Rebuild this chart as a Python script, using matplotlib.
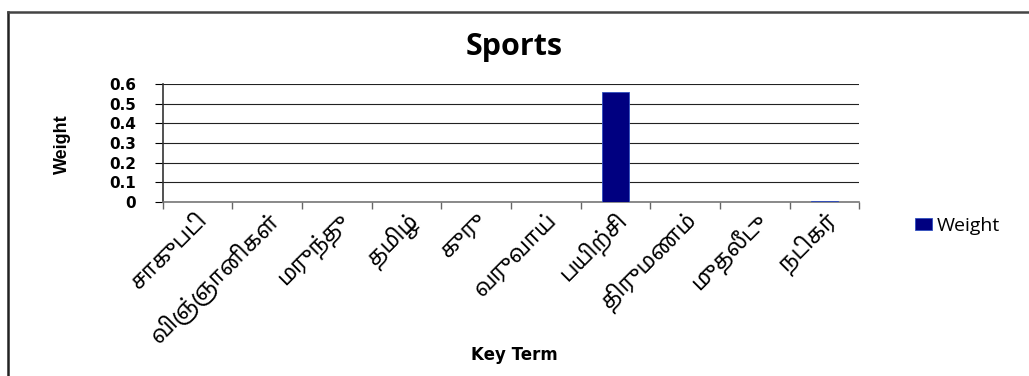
import matplotlib
matplotlib.use("Agg")
import matplotlib.pyplot as plt
from matplotlib.lines import Line2D
from matplotlib import font_manager
import numpy as np

terms = ["சாகுபடி", "விஞ்ஞானிகள்", "மருந்து", "தமிழ்", "குரு",
         "வருவாய்", "பயிற்சி", "திருமணம்", "முதலீடு", "நடிகர்"]
weights = [0, 0, 0, 0, 0, 0, 0.557, 0, 0, 0.004]
yticks = [0, 0.1, 0.2, 0.3, 0.4, 0.5, 0.6]

# pick whatever Tamil-capable family exists, else fall back
names = {f.name for f in font_manager.fontManager.ttflist}
tamil = [n for n in ["Noto Sans Tamil", "Lohit Tamil", "Noto Serif Tamil", "FreeSerif"] if n in names]
label_font = tamil + ["DejaVu Sans"]
narrow = "Liberation Sans Narrow" if "Liberation Sans Narrow" in names else "Liberation Sans"

fig = plt.figure(figsize=(10.29, 3.76), dpi=100)
ax = fig.add_axes([0.158, 0.463, 0.677, 0.314])

x = np.arange(len(terms))
ax.bar(x, weights, width=0.39, color="#000080", edgecolor="#3050c0",
       linewidth=0.6, label="Weight", zorder=3)

ax.set_xlim(-0.5, len(terms) - 0.5)
ax.set_ylim(0, 0.6)
ax.set_yticks(yticks)
ax.set_yticklabels(["0" if v == 0 else f"{v:.1f}" for v in yticks],
                   fontfamily="DejaVu Sans", fontweight="bold", fontsize=11)
ax.grid(axis="y", color="#222222", linewidth=0.8, zorder=0)
ax.tick_params(axis="y", length=6, width=0.8, pad=13)

ax.set_xticks(x)
ax.set_xticklabels(terms, rotation=45, ha="right", rotation_mode="anchor",
                   fontfamily=label_font, fontsize=16, fontweight="bold")
ax.set_xticks(np.arange(len(terms) + 1) - 0.5, minor=True)
ax.tick_params(axis="x", which="major", length=0, pad=5)
ax.tick_params(axis="x", which="minor", length=5, width=1, color="#666666")

for s in ["top", "right"]:
    ax.spines[s].set_visible(False)
ax.spines["left"].set_color("#333333")
ax.spines["left"].set_linewidth(1.2)
ax.spines["bottom"].set_color("#777777")
ax.spines["bottom"].set_linewidth(1.2)

fig.text(62 / 1029, 1 - 144 / 376, "Weight", rotation=90, ha="center", va="center",
         fontfamily=narrow, fontweight="bold", fontsize=13)
fig.text(0.5, 1 - 355 / 376, "Key Term", ha="center", va="center",
         fontfamily="DejaVu Sans", fontweight="bold", fontsize=12)
fig.text(0.5, 1 - 47 / 376, "Sports", ha="center", va="center",
         fontfamily="Open Sans", fontweight="bold", fontsize=22)

fig.legend(loc="center left", bbox_to_anchor=(0.872, 1 - 226 / 376), frameon=False,
           handlelength=0.9, handleheight=0.6, handletextpad=0.25,
           prop={"family": "Open Sans", "size": 14})

# chart frame: only the top and left edges show in the crop
fig.add_artist(Line2D([8 / 1029, 8 / 1029], [0, 1 - 12 / 376], transform=fig.transFigure,
                      color="#222222", linewidth=1.8))
fig.add_artist(Line2D([8 / 1029, 1], [1 - 12 / 376, 1 - 12 / 376], transform=fig.transFigure,
                      color="#444444", linewidth=1.8))

fig.savefig("out.png", dpi=100)
